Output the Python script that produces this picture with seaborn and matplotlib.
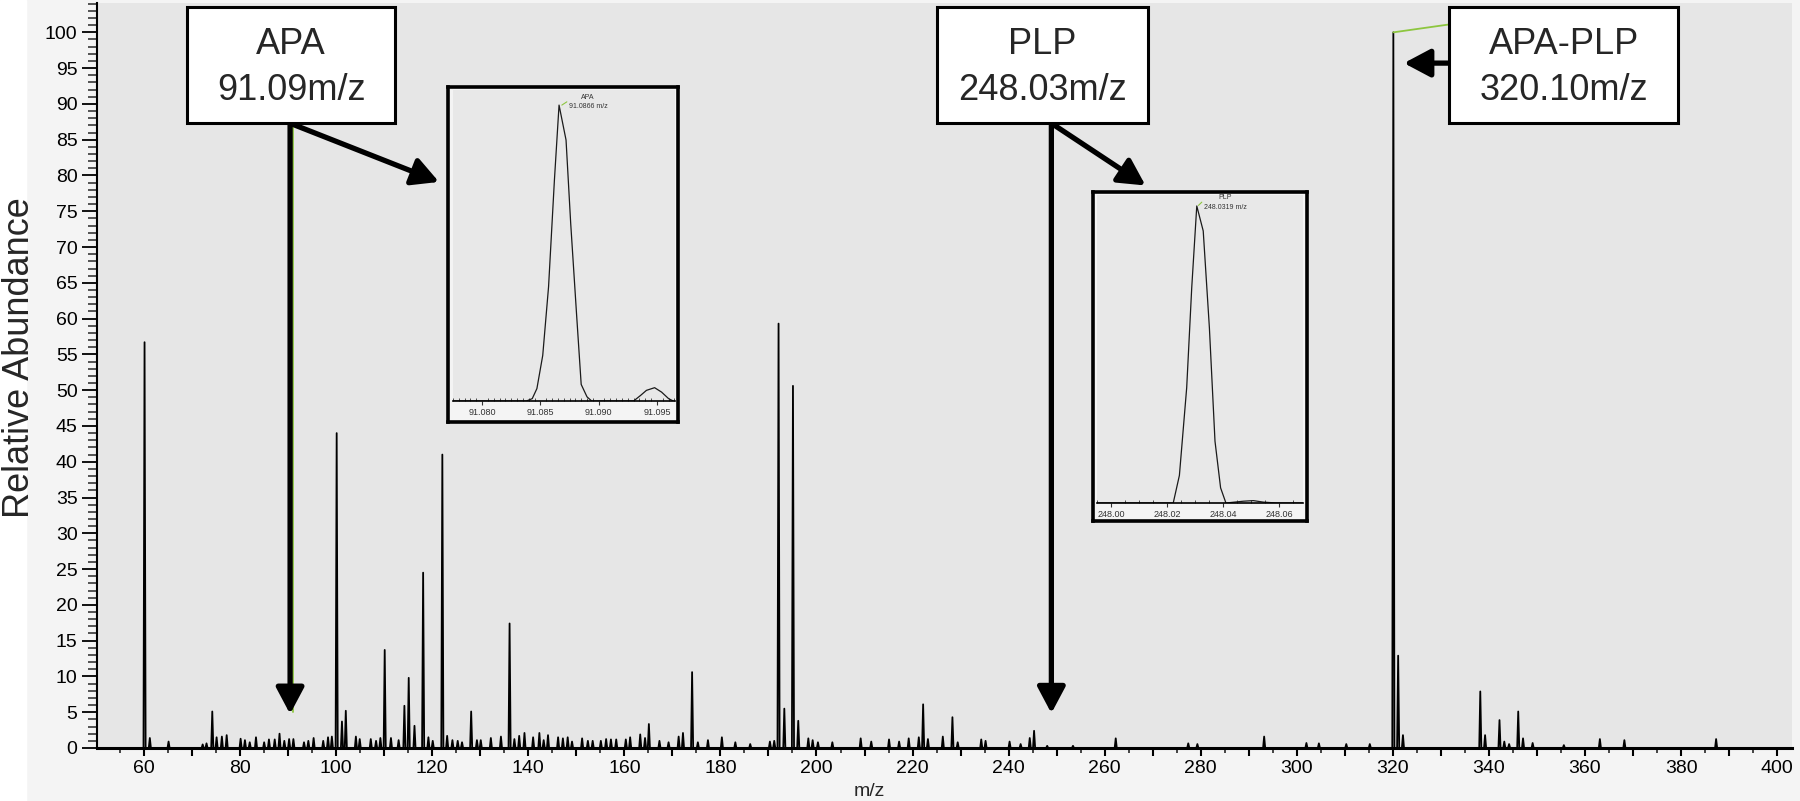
import matplotlib
matplotlib.use('Agg')
import matplotlib.pyplot as plt
import matplotlib.patches as mpatches
from matplotlib.ticker import MultipleLocator, FuncFormatter, FormatStrFormatter
import pandas as pd
import seaborn as sns

# centroid m/z and relative abundance of the peaks in the full scan
peak_mz = [60.1, 61.2, 65.1, 72.2, 73.0, 74.2, 75.1, 76.2, 77.2, 80.1, 81.0, 82.0,
           83.3, 85.0, 86.0, 87.2, 88.2, 89.2, 90.2, 91.09, 93.3, 94.2, 95.3, 97.3,
           98.3, 99.1, 100.1, 101.2, 102.0, 104.1, 104.9, 107.2, 108.3, 109.2, 110.1,
           111.4, 113.0, 114.2, 115.1, 116.3, 118.1, 119.2, 120.1, 122.1, 123.1, 124.2,
           125.3, 126.2, 128.1, 129.3, 130.1, 132.2, 134.3, 136.1, 137.1, 138.1, 139.2,
           141.0, 142.3, 143.2, 144.1, 146.2, 147.2, 148.2, 149.1, 151.2, 152.4, 153.4,
           155.1, 156.2, 157.2, 158.3, 160.3, 161.2, 163.3, 164.3, 165.1, 167.3, 169.2,
           171.3, 172.2, 174.1, 175.3, 177.4, 180.3, 183.1, 186.2, 190.3, 191.2, 192.1,
           193.3, 195.1, 196.2, 198.3, 199.2, 200.3, 203.3, 209.2, 211.4, 215.1, 217.2,
           219.2, 221.3, 222.2, 223.2, 226.3, 228.3, 229.4, 234.3, 235.2, 240.2, 242.5,
           244.4, 245.3, 248.03, 253.4, 262.3, 277.4, 279.3, 293.2, 302.0, 304.6, 310.3,
           315.2, 320.1, 321.1, 322.1, 338.2, 339.2, 342.2, 343.2, 344.2, 346.1, 347.1,
           349.1, 355.6, 363.1, 368.2, 387.3]
peak_ab = [56.7, 1.4, 0.9, 0.5, 0.65, 5.1, 1.5, 1.6, 1.8, 1.3, 1.1, 0.8,
           1.5, 0.8, 1.2, 1.2, 2.0, 1.0, 1.25, 1.25, 0.8, 1.0, 1.4, 1.0,
           1.5, 1.6, 44.0, 3.7, 5.2, 1.6, 1.25, 1.25, 1.0, 1.4, 13.7,
           1.4, 1.1, 5.9, 9.8, 3.1, 24.5, 1.5, 1.0, 41.0, 1.7, 1.1,
           1.0, 0.8, 5.1, 1.1, 1.1, 1.4, 1.6, 17.4, 1.25, 1.7, 2.1,
           1.5, 2.1, 1.1, 1.8, 1.5, 1.35, 1.5, 0.9, 1.35, 1.0, 1.0,
           1.0, 1.25, 1.2, 1.2, 1.2, 1.5, 1.9, 1.4, 3.35, 1.0, 0.8,
           1.6, 2.1, 10.6, 0.8, 1.1, 1.5, 0.8, 0.55, 0.9, 1.0, 59.3,
           5.5, 50.6, 3.8, 1.35, 1.1, 0.8, 0.8, 1.35, 0.9, 1.2, 0.9,
           1.35, 1.5, 6.1, 1.25, 1.6, 4.3, 0.8, 1.2, 1.0, 0.9, 0.55,
           1.4, 2.4, 0.3, 0.3, 1.35, 0.65, 0.55, 1.6, 0.7, 0.65, 0.55,
           0.55, 100.0, 12.9, 1.8, 7.9, 1.8, 3.9, 0.9, 0.55, 5.1, 1.35,
           0.7, 0.4, 1.25, 1.1, 1.25]

# zoomed profile of the APA peak
apa_mz = [91.0776, 91.0838, 91.0843, 91.0847, 91.0852, 91.0857, 91.0862, 91.0866,
          91.0872, 91.0876, 91.0881, 91.0885, 91.0890, 91.0894, 91.0930, 91.0936,
          91.0941, 91.0948, 91.0954, 91.0960, 91.0964]
apa_ab = [0, 0, 0.8, 4.2, 15.4, 38.6, 74.5, 100, 88.2, 60.0, 29.5, 5.6, 1.4, 0,
          0, 1.9, 3.6, 4.5, 3.0, 0.8, 0]

# zoomed profile of the PLP peak
plp_mz = [247.9950, 248.0221, 248.0243, 248.0269, 248.0287, 248.0305, 248.0328,
          248.0350, 248.0370, 248.0390, 248.0409, 248.0471, 248.0507, 248.0542,
          248.0590, 248.0683]
plp_ab = [0, 0, 9.3, 38.8, 72.5, 100, 91.6, 59.0, 20.8, 5.1, 0, 0.6, 0.8, 0.3, 0, 0]

W, H = 1800, 801
GREEN = '#8dc63f'


def px_rect(x0, y0, x1, y1):
    # pixel box measured from the top-left corner -> figure fraction rect
    return [x0 / W, 1 - y1 / H, (x1 - x0) / W, (y1 - y0) / H]


sns.set_theme(style='ticks')
plt.rcParams['font.family'] = ['Liberation Sans', 'DejaVu Sans']

fig = plt.figure(figsize=(W / 100, H / 100), dpi=100, facecolor='#f4f4f4')
fig.patches.append(mpatches.Rectangle((0, 0), 26 / W, 1, transform=fig.transFigure,
                                      color='white', zorder=-1))

ax = fig.add_axes(px_rect(97, 3, 1792, 748))
ax.set_facecolor('#e6e6e6')

# narrow triangular profile for every centroid
hw = 0.22
xs, ys = [50.2], [0.0]
for m, h in zip(peak_mz, peak_ab):
    xs += [m - hw, m, m + hw]
    ys += [0.0, h, 0.0]
xs.append(403.1)
ys.append(0.0)
spec = pd.DataFrame({'mz': xs, 'ab': ys})
sns.lineplot(data=spec, x='mz', y='ab', sort=False, estimator=None,
             color='black', lw=1.3, ax=ax)

ax.set_xlim(50.2, 403.1)
ax.set_ylim(0, 104.1)
ax.set_xlabel('')
ax.set_ylabel('')
ax.xaxis.set_major_locator(MultipleLocator(10))
ax.xaxis.set_minor_locator(MultipleLocator(5))
ax.xaxis.set_major_formatter(FuncFormatter(
    lambda v, p: f'{v:.0f}' if round(v) % 20 == 0 else ''))
ax.yaxis.set_major_locator(MultipleLocator(5))
ax.yaxis.set_minor_locator(MultipleLocator(1))
ax.tick_params(axis='x', which='major', length=5.5, width=1.5, labelsize=14, pad=3,
               colors='black')
ax.tick_params(axis='x', which='minor', length=3.3, width=1.2)
ax.tick_params(axis='y', which='major', length=11, width=1.3, labelsize=14, pad=3,
               colors='black')
ax.tick_params(axis='y', which='minor', length=6.5, width=1.1)
for side in ('top', 'right'):
    ax.spines[side].set_visible(False)
ax.spines['left'].set_linewidth(1.5)
ax.spines['bottom'].set_linewidth(2.2)
ax.spines['left'].set_color('black')
ax.spines['bottom'].set_color('black')

fig.text(20 / W, 1 - 358 / H, 'Relative Abundance', rotation=90,
         ha='center', va='center', fontsize=26)
fig.text(869 / W, 1 - 791 / H, 'm/z', ha='center', va='center', fontsize=14)

# software peak-label leader lines
ax.plot([91.09, 91.09], [5.1, 87.3], color=GREEN, lw=1.3, zorder=3)
ax.plot([320.1, 331.7], [100.0, 101.1], color=GREEN, lw=1.3, zorder=3)

# annotation boxes
boxes = [(68.96, 112.3, 'APA', '91.09m/z'),
         (225.0, 268.96, 'PLP', '248.03m/z'),
         (331.7, 379.4, 'APA-PLP', '320.10m/z')]
for x0, x1, name, mass in boxes:
    ax.add_patch(mpatches.Rectangle((x0, 87.3), x1 - x0, 16.3, facecolor='white',
                                    edgecolor='black', lw=2.2, clip_on=False, zorder=5))
    xc = (x0 + x1) / 2
    ax.text(xc, 97.0, name, ha='center', va='baseline', fontsize=26, zorder=6)
    ax.text(xc, 90.6, mass, ha='center', va='baseline', fontsize=26, zorder=6)

arrow = dict(arrowstyle='-|>,head_length=1.6,head_width=0.85', lw=3.8, color='black',
             shrinkA=0, shrinkB=0, mutation_scale=10)
arrows = [((90.4, 87.3), (90.4, 4.75)),
          ((90.4, 87.3), (121.4, 79.1)),
          ((248.9, 87.3), (248.9, 4.85)),
          ((248.9, 87.3), (268.5, 78.6)),
          ((331.7, 95.7), (322.3, 95.7))]
for start, tip in arrows:
    ax.annotate('', xy=tip, xytext=start, arrowprops=arrow,
                annotation_clip=False, zorder=4)


def inset(frame_px, plot_px, mz, ab, xlim, ytop, major, minor, fmt,
          label_xy, name, mass, tick_seg):
    fr = fig.add_axes(px_rect(*frame_px))
    fr.set_facecolor('#f4f4f4')
    fr.set_xticks([])
    fr.set_yticks([])
    for sp in fr.spines.values():
        sp.set_linewidth(2.6)
        sp.set_color('black')
    a = fig.add_axes(px_rect(*plot_px))
    a.set_facecolor('#e8e8e8')
    sns.lineplot(x=mz, y=ab, sort=False, estimator=None, color='#1a1a1a',
                 lw=0.9, ax=a)
    a.set_xlim(*xlim)
    a.set_ylim(0, ytop)
    a.set_yticks([])
    a.xaxis.set_major_locator(MultipleLocator(major))
    a.xaxis.set_minor_locator(MultipleLocator(minor))
    a.xaxis.set_major_formatter(FormatStrFormatter(fmt))
    a.tick_params(axis='x', which='major', length=3, width=0.8, labelsize=6.5,
                  pad=2, colors='#333333')
    a.tick_params(axis='x', which='minor', direction='in', length=2, width=0.6,
                  colors='#333333')
    for side in ('top', 'right', 'left'):
        a.spines[side].set_visible(False)
    a.spines['bottom'].set_linewidth(1.2)
    a.spines['bottom'].set_color('black')
    a.plot(tick_seg[0], tick_seg[1], color=GREEN, lw=0.8)
    a.text(label_xy[0], label_xy[1], name, ha='center', va='center', fontsize=5,
           color='#333333', clip_on=False)
    a.text(label_xy[0], label_xy[1] - 3.2, mass, ha='center', va='center',
           fontsize=5, color='#333333', clip_on=False)
    a.set_xlabel('')
    a.set_ylabel('')
    return a


inset((448, 87, 678, 422), (453, 90, 675, 401), apa_mz, apa_ab,
      (91.0775, 91.09655), 105.1, 0.005, 0.0005, '%.3f',
      (91.0891, 102.6), 'APA', '91.0866 m/z',
      ([91.08684, 91.08727], [100.0, 101.1]))
inset((1093, 192, 1307, 521), (1097, 195, 1303, 503), plp_mz, plp_ab,
      (247.9949, 248.0684), 103.7, 0.02, 0.005, '%.2f',
      (248.0406, 102.8), 'PLP', '248.0319 m/z',
      ([248.0311, 248.0323], [100.2, 101.3]))

fig.savefig('out.png', dpi=100, facecolor=fig.get_facecolor())
